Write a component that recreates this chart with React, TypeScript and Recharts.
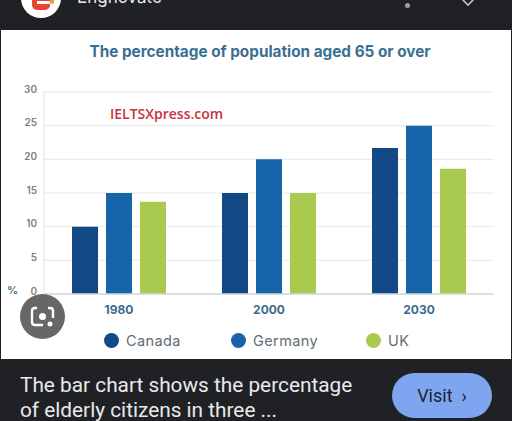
import React from "react";
import { BarChart, Bar, XAxis, YAxis, CartesianGrid, Legend } from "recharts";

const years = ["1980", "2000", "2030"];
const canada = [10, 15, 21.7];
const germany = [15, 20, 25];
const uk = [13.7, 15, 18.6];
const yTicks = [0, 5, 10, 15, 20, 25, 30];
const data = years.map((year, i) => ({ year, Canada: canada[i], Germany: germany[i], UK: uk[i] }));
const seriesNames = ["Canada", "Germany", "UK"];
const seriesColors = ["#134a85", "#1565a8", "#a8cb4f"];
const legendX = [104, 231, 366];

const font = "Inter, 'Open Sans', sans-serif";

const LegendContent = () => (
  <div style={{ position: "relative", width: 512, height: 20, fontFamily: font }}>
    {seriesNames.map((n, i) => (
      <div key={n} style={{ position: "absolute", left: legendX[i], top: 0, display: "flex", alignItems: "center", height: 20 }}>
        <span style={{ width: 15, height: 15, borderRadius: "50%", background: seriesColors[i], marginRight: 7, display: "inline-block" }} />
        <span style={{ fontSize: 14.5, letterSpacing: 0.4, color: "#5f6d75" }}>{n}</span>
      </div>
    ))}
  </div>
);

export default function App() {
  return (
    <div style={{ position: "fixed", left: 0, top: 0, width: 512, height: 421, background: "#202124", overflow: "hidden", fontFamily: font }}>
      {/* app bar */}
      <div style={{ position: "absolute", left: 21, top: -22, width: 40, height: 40, borderRadius: "50%", background: "#fff" }} />
      <div style={{ position: "absolute", left: 32, top: -8, width: 18, height: 18, borderRadius: "0 0 5px 5px", background: "#e8452f" }} />
      <div style={{ position: "absolute", left: 50, top: -8, width: 4, height: 12, borderRadius: "0 0 3px 3px", background: "#f39a3c" }} />
      <div style={{ position: "absolute", left: 37, top: 1, width: 13, height: 3, background: "#fff" }} />
      <div style={{ position: "absolute", left: 77, top: -13, fontSize: 17, color: "#e8eaed", whiteSpace: "nowrap" }}>Enghovate</div>
      <div style={{ position: "absolute", left: 405, top: 3, width: 5, height: 5, borderRadius: "50%", background: "#9aa0a6" }} />
      <svg style={{ position: "absolute", left: 455, top: 0 }} width="26" height="10">
        <path d="M4 -4 L13 5 L22 -4" stroke="#bdc1c6" strokeWidth="1.6" fill="none" />
      </svg>

      {/* white image area */}
      <div style={{ position: "absolute", left: 1, top: 30, width: 510, height: 329, background: "#fff" }} />

      <div style={{ position: "absolute", left: 0, top: 0, width: 512, height: 421 }}>
        <BarChart
          width={512}
          height={421}
          data={data}
          margin={{ top: 92, right: 18, bottom: 77, left: 0 }}
          barSize={26}
          barGap={8}
          barCategoryGap={47}
        >
          <CartesianGrid vertical={false} stroke="#e6e8e8" strokeWidth={1} />
          <XAxis
            dataKey="year"
            height={30}
            tickLine={false}
            tickSize={0}
            axisLine={{ stroke: "#d5d8d8", strokeWidth: 1.5 }}
            tick={{ fontSize: 12, fontWeight: 700, fill: "#3d6b8c", fontFamily: font }}
            tickMargin={11}
          />
          <YAxis
            width={44}
            domain={[0, 30]}
            ticks={yTicks}
            tickLine={false}
            tickSize={0}
            axisLine={{ stroke: "#e0e2e2", strokeWidth: 1 }}
            tick={{ fontSize: 10, fontWeight: 600, fill: "#7a7f82", fontFamily: font, dy: -3 }}
            tickMargin={7}
          />
          <Legend
            content={<LegendContent />}
            wrapperStyle={{ position: "absolute", left: 0, top: 330, width: 512, height: 20 }}
          />
          {seriesNames.map((n, i) => (
            <Bar key={n} dataKey={n} fill={seriesColors[i]} isAnimationActive={false} />
          ))}
        </BarChart>
      </div>

      {/* chart text overlays */}
      <div style={{ position: "absolute", left: 0, width: 520, top: 42, textAlign: "center", fontSize: 15.3, fontWeight: 700, color: "#3a6f92", whiteSpace: "nowrap" }}>
        The percentage of population aged 65 or over
      </div>
      <div style={{ position: "absolute", left: 110, top: 104, fontSize: 14, fontWeight: 600, color: "#c8323c", fontFamily: "'Open Sans', sans-serif", whiteSpace: "nowrap" }}>
        IELTSXpress.com
      </div>
      <div style={{ position: "absolute", left: 7, top: 283, fontSize: 11, fontWeight: 700, color: "#4f7690" }}>%</div>

      {/* lens button */}
      <div style={{ position: "absolute", left: 20, top: 294, width: 45, height: 45, borderRadius: "50%", background: "#666766" }} />
      <svg style={{ position: "absolute", left: 20, top: 294 }} width="45" height="45">
        <path d="M17 14 H15 Q12 14 12 17 V28 Q12 31 15 31 H23 M28 14 H30 Q33 14 33 17 V24" stroke="#fff" strokeWidth="2.4" fill="none" />
        <circle cx="22.5" cy="22.5" r="3.5" fill="#fff" />
        <circle cx="30" cy="30" r="2.5" fill="#fff" />
      </svg>

      {/* caption */}
      <div style={{ position: "absolute", left: 20, top: 373, width: 360, fontSize: 20.8, lineHeight: "25px", color: "#e8eaed", fontFamily: "Roboto, sans-serif", whiteSpace: "nowrap" }}>
        The bar chart shows the percentage
        <br />
        of elderly citizens in three ...
      </div>
      <div style={{ position: "absolute", left: 392, top: 373, width: 100, height: 45, borderRadius: 23, background: "#7ea6f0", color: "#1c2230", fontSize: 18, lineHeight: "45px", textAlign: "center", fontFamily: "Roboto, sans-serif" }}>
        Visit &nbsp;›
      </div>
    </div>
  );
}
